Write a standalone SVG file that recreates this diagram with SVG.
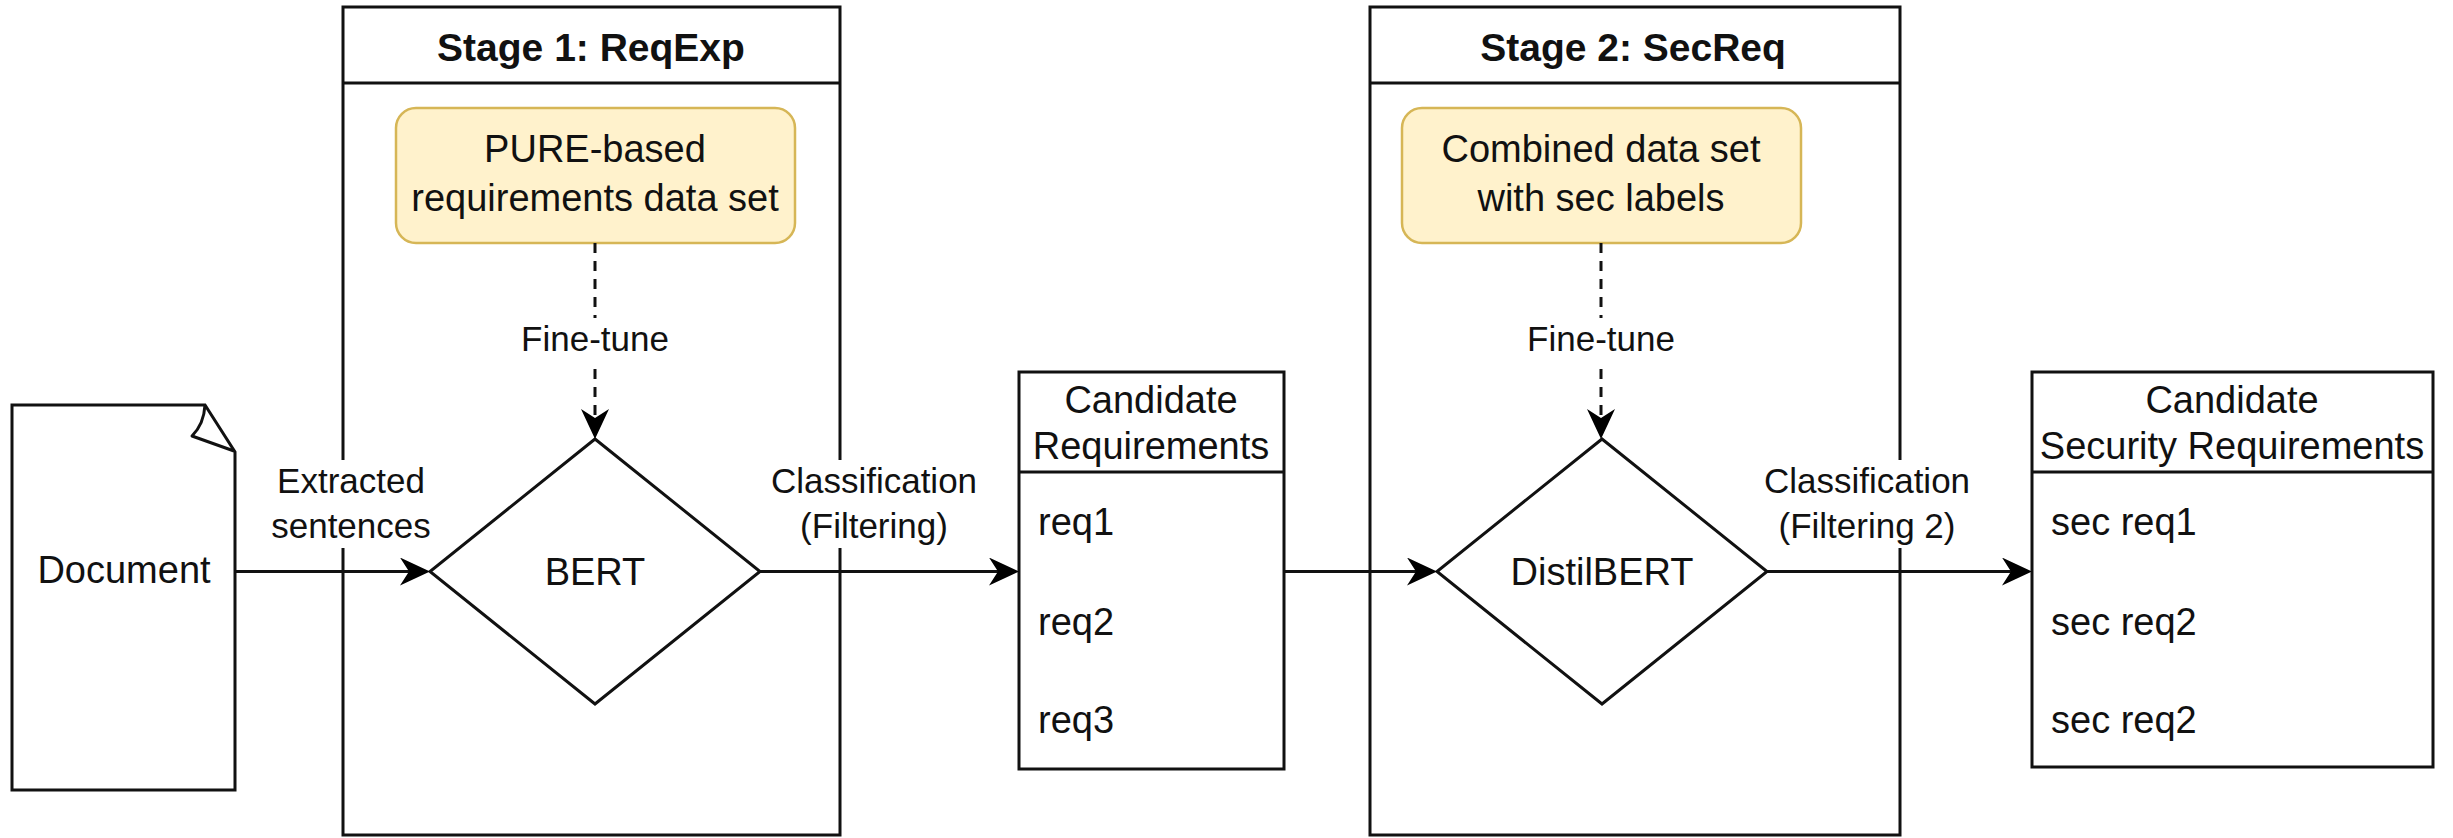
<svg xmlns="http://www.w3.org/2000/svg" width="2453" height="838" viewBox="0 0 2453 838">
  <defs>
    <marker id="arrow" viewBox="0 0 30 28" refX="10" refY="14" markerWidth="30" markerHeight="28" markerUnits="userSpaceOnUse" orient="auto">
      <path d="M0,0 L30,14 L0,28 L9,14 Z" fill="#000"/>
    </marker>
    <style>
      text { font-family: "Liberation Sans", Arial, Helvetica, sans-serif; fill: #111; }
      .box { fill: #fff; stroke: #111; stroke-width: 3; }
      .line { fill: none; stroke: #111; stroke-width: 3; }
      .data { fill: #fff2cc; stroke: #d6b656; stroke-width: 2.5; }
      .node { font-size: 38px; }
      .title { font-size: 39px; font-weight: bold; }
      .lbl { font-size: 35px; }
      .lblbg { fill: #fff; stroke: none; }
      .flow { fill: none; stroke: #111; stroke-width: 3; marker-end: url(#arrow); }
      .dash { fill: none; stroke: #111; stroke-width: 3; stroke-dasharray: 10 8; marker-end: url(#arrow); }
    </style>
  </defs>
  <rect x="0" y="0" width="2453" height="838" fill="#fff"/>

  <g id="stage1">
    <rect class="box" x="343" y="7" width="497" height="828"/>
    <line class="line" x1="343" y1="83" x2="840" y2="83"/>
    <text class="title" x="591" y="61" text-anchor="middle">Stage 1: ReqExp</text>
  </g>

  <g id="stage2">
    <rect class="box" x="1370" y="7" width="530" height="828"/>
    <line class="line" x1="1370" y1="83" x2="1900" y2="83"/>
    <text class="title" x="1633" y="61" text-anchor="middle">Stage 2: SecReq</text>
  </g>

  <g id="document">
    <path class="box" d="M12,405 L205,405 L235,452 L235,790 L12,790 Z"/>
    <path class="line" d="M205,405 Q204,424 192,436 L234,451" stroke-linejoin="round"/>
    <text class="node" x="124" y="583" text-anchor="middle">Document</text>
  </g>

  <g id="pure-dataset">
    <rect class="data" x="396" y="108" width="399" height="135" rx="20" ry="20"/>
    <text class="node" x="595" y="162" text-anchor="middle">PURE-based</text>
    <text class="node" x="595" y="211" text-anchor="middle">requirements data set</text>
  </g>

  <g id="bert">
    <polygon class="box" points="595,439 760,571.5 595,704 430,571.5" stroke-width="2.5"/>
    <text class="node" x="595" y="585" text-anchor="middle">BERT</text>
  </g>

  <g id="candidate-requirements">
    <rect class="box" x="1019" y="372" width="265" height="397"/>
    <line class="line" x1="1019" y1="472" x2="1284" y2="472"/>
    <text class="node" x="1151" y="413" text-anchor="middle">Candidate</text>
    <text class="node" x="1151" y="459" text-anchor="middle">Requirements</text>
    <text class="node" x="1038" y="535">req1</text>
    <text class="node" x="1038" y="635">req2</text>
    <text class="node" x="1038" y="733">req3</text>
  </g>

  <g id="combined-dataset">
    <rect class="data" x="1402" y="108" width="399" height="135" rx="20" ry="20"/>
    <text class="node" x="1601" y="162" text-anchor="middle">Combined data set</text>
    <text class="node" x="1601" y="211" text-anchor="middle">with sec labels</text>
  </g>

  <g id="distilbert">
    <polygon class="box" points="1602,439 1767,571.5 1602,704 1437,571.5" stroke-width="2.5"/>
    <text class="node" x="1602" y="585" text-anchor="middle">DistilBERT</text>
  </g>

  <g id="candidate-security-requirements">
    <rect class="box" x="2032" y="372" width="401" height="395"/>
    <line class="line" x1="2032" y1="472" x2="2433" y2="472"/>
    <text class="node" x="2232" y="413" text-anchor="middle">Candidate</text>
    <text class="node" x="2232" y="459" text-anchor="middle">Security Requirements</text>
    <text class="node" x="2051" y="535">sec req1</text>
    <text class="node" x="2051" y="635">sec req2</text>
    <text class="node" x="2051" y="733">sec req2</text>
  </g>

  <g id="connectors">
    <line class="flow" x1="235" y1="571.5" x2="410" y2="571.5"/>
    <line class="flow" x1="760" y1="571.5" x2="999" y2="571.5"/>
    <line class="flow" x1="1284" y1="571.5" x2="1417" y2="571.5"/>
    <line class="flow" x1="1767" y1="571.5" x2="2012" y2="571.5"/>
    <line class="dash" x1="595" y1="243" x2="595" y2="419"/>
    <line class="dash" x1="1601" y1="243" x2="1601" y2="419"/>

    <rect class="lblbg" x="266" y="460" width="170" height="88"/>
    <text class="lbl" x="351" y="493" text-anchor="middle">Extracted</text>
    <text class="lbl" x="351" y="538" text-anchor="middle">sentences</text>

    <rect class="lblbg" x="764" y="460" width="220" height="88"/>
    <text class="lbl" x="874" y="493" text-anchor="middle">Classification</text>
    <text class="lbl" x="874" y="538" text-anchor="middle">(Filtering)</text>

    <rect class="lblbg" x="1758" y="460" width="218" height="88"/>
    <text class="lbl" x="1867" y="493" text-anchor="middle">Classification</text>
    <text class="lbl" x="1867" y="538" text-anchor="middle">(Filtering 2)</text>

    <rect class="lblbg" x="517" y="318" width="157" height="44"/>
    <text class="lbl" x="595" y="351" text-anchor="middle">Fine-tune</text>

    <rect class="lblbg" x="1523" y="318" width="157" height="44"/>
    <text class="lbl" x="1601" y="351" text-anchor="middle">Fine-tune</text>
  </g>
</svg>
